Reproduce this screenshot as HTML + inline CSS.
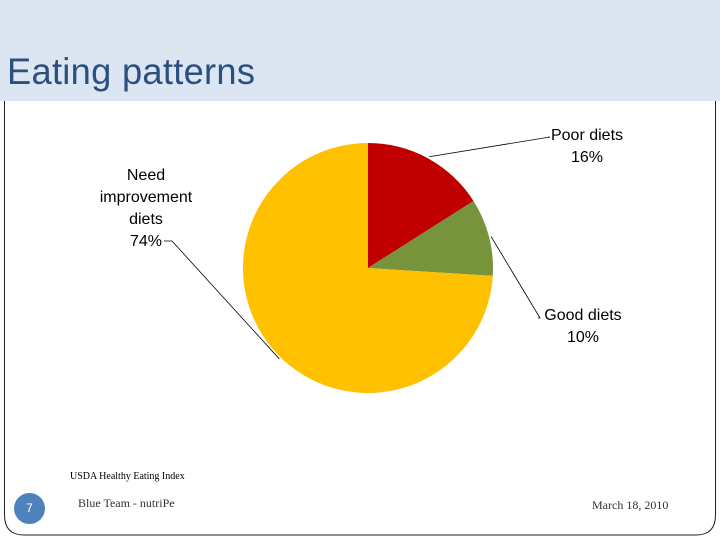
<!DOCTYPE html>
<html><head><meta charset="utf-8"><style>
body{margin:0;width:720px;height:540px;background:#fff;overflow:hidden;font-family:"Liberation Sans",sans-serif;position:relative}
</style></head><body>
<div style="position:absolute;left:0;top:0;width:720px;height:101px;background:#dce6f2"></div>
<div style="position:absolute;left:7px;top:51px;font-size:37px;color:#2b4f7e;font-family:'Liberation Sans',sans-serif;letter-spacing:0.3px;transform:scaleX(0.98);transform-origin:left">Eating patterns</div>
<svg width="720" height="540" style="position:absolute;left:0;top:0">
<path d="M4.5 101 V515 Q4.5 535 24 535 H696 Q715.5 535 715.5 515 V101" fill="none" stroke="#222" stroke-width="1"/>
</svg>
<svg id="chart" width="720" height="540" style="position:absolute;left:0;top:0"></svg>
<div style="position:absolute;left:70px;top:471px;font-size:10px;font-family:'Liberation Serif',serif">USDA Healthy Eating Index</div>
<div style="position:absolute;left:14px;top:493px;width:31px;height:31px;border-radius:50%;background:#4f81bd;color:#fff;font-size:12px;text-align:center;line-height:31px">7</div>
<div style="position:absolute;left:78px;top:496px;font-size:12px;color:#333;font-family:'Liberation Serif',serif">Blue Team - nutriPe</div>
<div style="position:absolute;left:592px;top:498px;font-size:12px;color:#333;font-family:'Liberation Serif',serif">March 18, 2010</div>
<script>
const categories=["Poor diets","Good diets","Need improvement diets"];
const values=[16,10,74];
const colors=["#c00000","#77933c","#ffc000"];
const labels=[["Poor diets","16%"],["Good diets","10%"],["Need","improvement","diets","74%"]];
const NS="http://www.w3.org/2000/svg";
const svg=document.getElementById('chart');
const cx=368,cy=268,r=125;
const total=values.reduce((a,b)=>a+b,0);
function pt(f,rr){const a=f*2*Math.PI;return [cx+rr*Math.sin(a),cy-rr*Math.cos(a)];}
let acc=0;
const labelPos=[{x:587,y:140,lx:550,ly:137},{x:583,y:320,lx:540,ly:318},{x:146,y:180,lx:172,ly:241}];
values.forEach((v,i)=>{
  const f0=acc/total,f1=(acc+v)/total;acc+=v;
  const p0=pt(f0,r),p1=pt(f1,r);
  const large=(f1-f0)>0.5?1:0;
  const p=document.createElementNS(NS,'path');
  p.setAttribute('d',`M${cx} ${cy} L${p0[0]} ${p0[1]} A${r} ${r} 0 ${large} 1 ${p1[0]} ${p1[1]} Z`);
  p.setAttribute('fill',colors[i]);
  
  
  svg.appendChild(p);
  const fm=(f0+f1)/2;
  const lp=labelPos[i];
  const ex = i===2 ? pt(f0+0.5*(f1-f0)-0.007,r+2) : pt(fm,r+2);
  const tx = i===2? lp.lx-8 : lp.lx-2;
  const ln=document.createElementNS(NS,'polyline');
  ln.setAttribute('points',`${ex[0]},${ex[1]} ${lp.lx},${lp.ly} ${tx},${lp.ly}`);
  ln.setAttribute('fill','none');ln.setAttribute('stroke','#000');ln.setAttribute('stroke-width','0.8');
  
  
  svg.appendChild(ln);
  const t=document.createElementNS(NS,'text');
  t.setAttribute('text-anchor','middle');t.setAttribute('font-size','16');
  t.setAttribute('font-family','Liberation Sans, sans-serif');
  
  
  labels[i].forEach((s,k)=>{const ts=document.createElementNS(NS,'tspan');ts.setAttribute('x',lp.x);ts.setAttribute('y',lp.y+k*22);ts.textContent=s;t.appendChild(ts);});
  svg.appendChild(t);
});
</script>
</body></html>
